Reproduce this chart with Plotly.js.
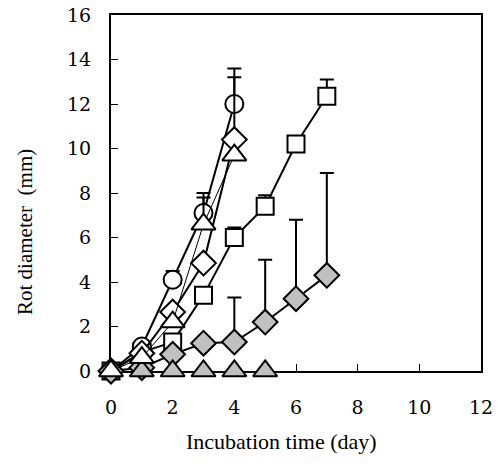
<!DOCTYPE html>
<html><head><meta charset="utf-8">
<script src="https://cdn.plot.ly/plotly-3.0.1.min.js"></script>
<style>html,body{margin:0;padding:0;background:#fff}</style>
</head><body>
<div id="chart" style="width:502px;height:468px"></div>
<script>
// Data
const daysA = [0, 1, 2, 3, 4];
const daysB = [0, 1, 2, 3, 4, 5, 6, 7];
const daysGT = [1, 2, 3, 4, 5];

const circleY = [0, 1.1, 4.1, 7.1, 12.0];
const circleErr = [0, 0, 0.4, 0.9, 1.6];

const diamondY = [0, 0.8, 2.65, 4.85, 10.4];
const diamondErr = [0, 0, 0, 0, 2.8];

const triangleY = [0, 0.6, 2.2, 6.6, 9.7];
const triangleErr = [0, 0, 0, 1.2, 0];

const squareY = [0, 0.85, 1.3, 3.4, 6.0, 7.4, 10.2, 12.35];
const squareErr = [0, 0, 0, 0, 0.45, 0.5, 0, 0.75];

const grayDiamondY = [0, 0.15, 0.75, 1.25, 1.3, 2.2, 3.25, 4.3];
const grayDiamondErr = [0, 0, 0, 0, 2.0, 2.8, 3.55, 4.6];

const grayTriangleY = [0, 0, 0, 0, 0];

const xTicks = [0, 2, 4, 6, 8, 10, 12];
const yTicks = [0, 2, 4, 6, 8, 10, 12, 14, 16];

const gray = '#c0c0c0';
function errUp(arr) {
  return {type: 'data', symmetric: false, array: arr, arrayminus: arr.map(() => 0),
          color: '#000', thickness: 2, width: 7};
}
function tr(x, y, err, symbol, fill, lw, size) {
  const t = {
    x: x, y: y, type: 'scatter', mode: 'lines+markers', cliponaxis: false,
    line: {color: '#000', width: lw},
    marker: {symbol: symbol, size: size, color: fill, line: {color: '#000', width: 2}},
    showlegend: false
  };
  if (err) t.error_y = errUp(err);
  return t;
}

const data = [
  tr(daysB, squareY, squareErr, 'square', '#fff', 2, 17),
  tr(daysA, circleY, circleErr, 'circle', '#fff', 2, 18),
  tr(daysA, diamondY, diamondErr, 'diamond', '#fff', 2, 19),
  tr(daysB, grayDiamondY, grayDiamondErr, 'diamond', gray, 2, 19),
  tr(daysGT, grayTriangleY, null, 'triangle-up', gray, 0, 21),
  tr(daysA, triangleY, triangleErr, 'triangle-up', '#fff', 1, 21)
];
data[4].mode = 'markers';

const fontSerif = 'Liberation Serif, Times New Roman, serif';
const fontTick = 'DejaVu Serif, serif';
const layout = {
  width: 502, height: 468,
  margin: {l: 111, r: 21, t: 15, b: 97},
  paper_bgcolor: '#fff', plot_bgcolor: '#fff',
  font: {family: fontSerif, color: '#000', size: 20},
  xaxis: {
    range: [0, 12], tickvals: xTicks, ticktext: xTicks.map(String),
    ticks: 'inside', ticklen: 7, tickwidth: 1, tickcolor: '#000',
    showline: true, linecolor: '#000', linewidth: 2, mirror: true,
    showgrid: false, zeroline: false, layer: 'below traces',
    ticklabelstandoff: 18, tickfont: {family: fontTick, size: 19}
  },
  yaxis: {
    range: [0, 16], tickvals: yTicks, ticktext: yTicks.map(String),
    ticks: 'inside', ticklen: 7, tickwidth: 1, tickcolor: '#000',
    showline: true, linecolor: '#000', linewidth: 2, mirror: true,
    showgrid: false, zeroline: false, layer: 'below traces',
    ticklabelstandoff: 14, tickfont: {family: fontTick, size: 19}
  },
  annotations: [
    {text: 'Incubation time (day)', xref: 'paper', yref: 'paper',
     x: (281 - 111) / 370, y: -(441 - 371) / 356, xanchor: 'center', yanchor: 'middle',
     showarrow: false, font: {family: fontSerif, size: 22, color: '#000'}},
    {text: 'Rot diameter  (mm)', xref: 'paper', yref: 'paper',
     x: -(111 - 25) / 370, y: (371 - 232) / 356, xanchor: 'center', yanchor: 'middle',
     textangle: -90, showarrow: false, font: {family: fontSerif, size: 21, color: '#000'}}
  ]
};

Plotly.newPlot('chart', data, layout, {displayModeBar: false, staticPlot: true});
</script>
</body></html>
